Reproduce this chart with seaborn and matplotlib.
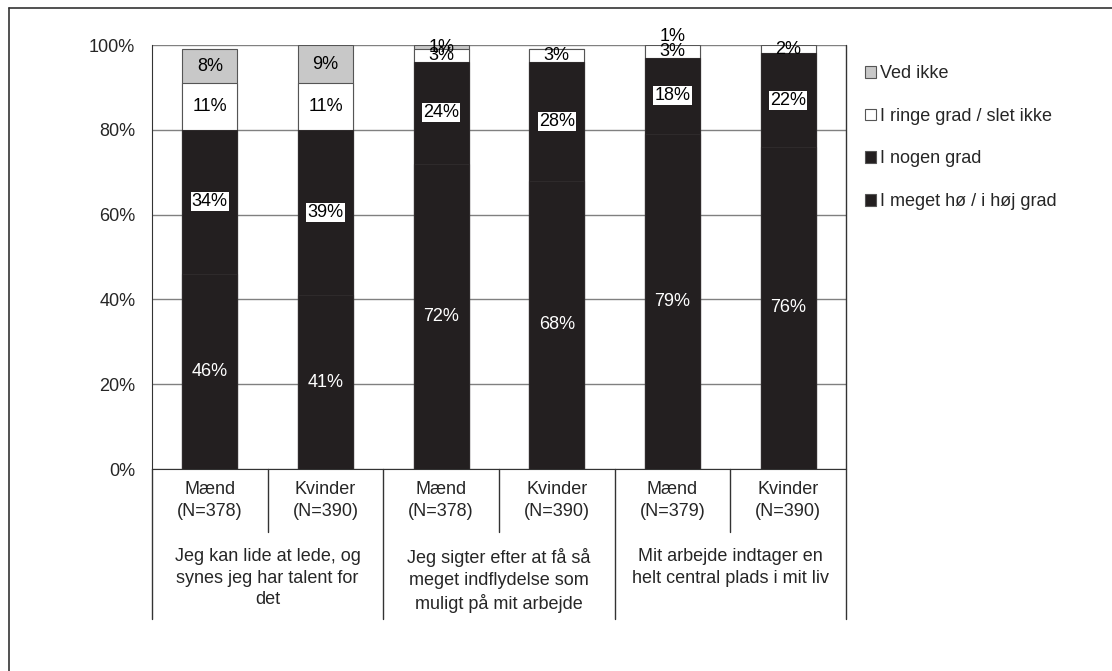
import matplotlib
matplotlib.use("Agg")
import matplotlib.pyplot as plt
from matplotlib.lines import Line2D
from matplotlib.patches import Patch
import numpy as np
import pandas as pd
import seaborn as sns

# --- data -------------------------------------------------------------
bar_labels = ["Mænd\n(N=378)", "Kvinder\n(N=390)",
              "Mænd\n(N=378)", "Kvinder\n(N=390)",
              "Mænd\n(N=379)", "Kvinder\n(N=390)"]
group_labels = ["Jeg kan lide at lede, og\nsynes jeg har talent for\ndet",
                "Jeg sigter efter at få så\nmeget indflydelse som\nmuligt på mit arbejde",
                "Mit arbejde indtager en\nhelt central plads i mit liv"]
series_names = ["I meget hø / i høj grad", "I nogen grad",
                "I ringe grad / slet ikke", "Ved ikke"]
meget = [46, 41, 72, 68, 79, 76]
nogen = [34, 39, 24, 28, 18, 22]
ringe = [11, 11, 3, 3, 3, 2]
ved_ikke = [8, 9, 1, 0, 1, 0]

# --- styling ----------------------------------------------------------
sns.set_style("white")
plt.rcParams["font.family"] = ["Liberation Sans", "DejaVu Sans"]
FS = 13
plt.rcParams["font.size"] = FS

DARK = "#231f20"
GREY = "#c8c8c8"
fills = [DARK, DARK, "white", GREY]
edges = ["#2e2a2b", "#2e2a2b", "#555555", "#555555"]

series = [meget, nogen, ringe, ved_ikke]
bar_ids = [str(i) for i in range(len(bar_labels))]

# long table of cumulative tops, one row per bar and layer
rows = []
for k, (name, vals) in enumerate(zip(series_names, series)):
    cum = np.sum(series[:k + 1], axis=0)
    for b, c, v in zip(bar_ids, cum, vals):
        rows.append({"bar": b, "layer": name, "top": c, "value": v})
df = pd.DataFrame(rows)

fig = plt.figure(figsize=(11.12, 6.71), dpi=100)
ax = fig.add_axes([152 / 1112, 1 - 469 / 671, (846 - 152) / 1112, (469 - 45) / 671])

# stacked bars: draw cumulative totals from the top layer down
for k in range(len(series_names) - 1, -1, -1):
    sub = df[df["layer"] == series_names[k]]
    sns.barplot(data=sub, x="bar", y="top", order=bar_ids, color=fills[k],
                saturation=1, width=0.475, edgecolor=edges[k], linewidth=0.8,
                ax=ax, zorder=3)

ax.set_ylim(0, 100)
ax.set_xlim(-0.5, len(bar_ids) - 0.5)
ax.set_yticks(np.arange(0, 101, 20))
ax.set_yticklabels([f"{t}%" for t in range(0, 101, 20)], fontsize=FS)
ax.tick_params(axis="y", direction="out", length=6, width=1, color="#333333",
               pad=6)
ax.set_xticks(range(len(bar_ids)))
ax.set_xticklabels(bar_labels, fontsize=FS, linespacing=1.35)
ax.tick_params(axis="x", length=0, pad=9)
ax.set_xlabel("")
ax.set_ylabel("")
ax.yaxis.grid(True, color="#808080", linewidth=1)
ax.set_axisbelow(True)
for side in ["top", "right"]:
    ax.spines[side].set_visible(False)
ax.spines["left"].set_color("#333333")
ax.spines["bottom"].set_color("#333333")

# value labels
for k, vals in enumerate(series):
    cum = np.sum(series[:k + 1], axis=0)
    for i, (v, top) in enumerate(zip(vals, cum)):
        if v == 0:
            continue
        y = top - v / 2
        va = "center"
        if top > 100:
            y, va = 100, "bottom"
        kw = {}
        color = "black"
        if k == 0:
            color = "white"
        elif k == 1:
            kw["bbox"] = dict(facecolor="white", edgecolor="none", pad=0.8)
        ax.text(i, y, f"{v}%", ha="center", va=va, color=color, fontsize=FS,
                zorder=5, clip_on=False, **kw)

# category table below the axis
trans = ax.get_xaxis_transform()
line_kw = dict(color="#333333", linewidth=1, transform=trans, clip_on=False)
for x in [-0.5, 1.5, 3.5, 5.5]:
    ax.add_line(Line2D([x, x], [-0.354, 0 if x < 5 else 1], **line_kw))
for x in [0.5, 2.5, 4.5]:
    ax.add_line(Line2D([x, x], [-0.149, 0], **line_kw))
for g, text in enumerate(group_labels):
    ax.text(2 * g + 0.5, -0.187, text, transform=trans, ha="center", va="top",
            fontsize=FS, linespacing=1.35)

# legend
handles = [Patch(facecolor=GREY, edgecolor="#555555", linewidth=0.8),
           Patch(facecolor="white", edgecolor="#555555", linewidth=0.8),
           Patch(facecolor=DARK, edgecolor="#555555", linewidth=0.8),
           Patch(facecolor=DARK, edgecolor="#555555", linewidth=0.8)]
leg_names = ["Ved ikke", "I ringe grad / slet ikke", "I nogen grad",
             "I meget hø / i høj grad"]
fig.legend(handles, leg_names, loc="upper left",
           bbox_to_anchor=(858 / 1112, 1 - 58 / 671), frameon=False,
           fontsize=FS, handlelength=0.6, handleheight=0.6,
           handletextpad=0.2, labelspacing=1.42, borderaxespad=0)

# outer frame (left and top edges)
fig.add_artist(Line2D([9 / 1112, 9 / 1112], [0, 1 - 8 / 671],
                      transform=fig.transFigure, color="#333333", lw=1.2))
fig.add_artist(Line2D([9 / 1112, 1], [1 - 8 / 671, 1 - 8 / 671],
                      transform=fig.transFigure, color="#333333", lw=1.2))

fig.savefig("out.png", dpi=100)
